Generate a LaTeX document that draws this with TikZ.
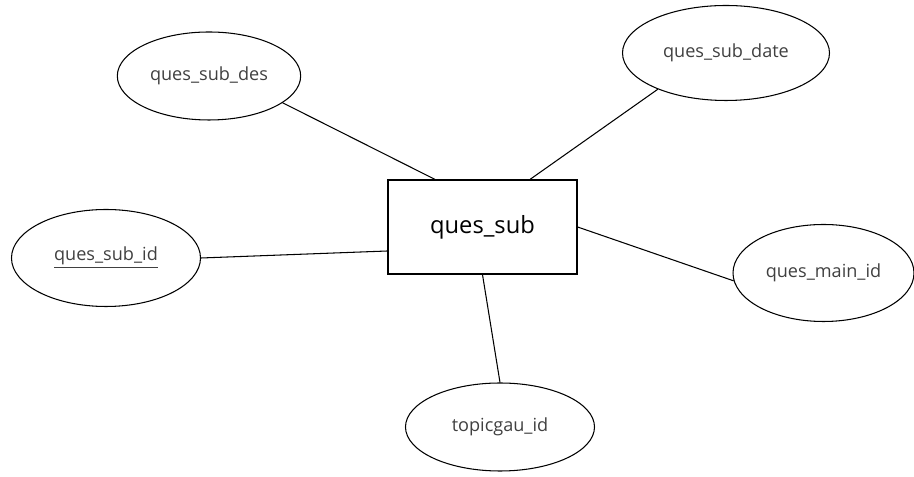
\documentclass[tikz,border=0pt]{standalone}
\usepackage{fontspec}
\setmainfont{Open Sans}
\usetikzlibrary {calc,
                 positioning,
                 shapes.geometric}
\tikzset{
        entity/.style={draw, rectangle, line width=0.7pt, minimum width=3.78cm,
                       minimum height=1.88cm, font=\fontsize{13.5}{16}\selectfont},
        attr/.style={draw, ellipse, line width=0.6pt, minimum width=3.78cm,
                     minimum height=1.9cm, text=black!75,
                     font=\fontsize{10.3}{13}\selectfont},
        link/.style={line width=0.6pt},
 }

\begin{document}
\begin{tikzpicture}[node distance=1cm, on grid]
    \useasboundingbox (-9.65,-5.0) rectangle (8.63,4.54);
    \node[entity] (sub) {ques\_sub};
    % attributes round the entity
    \node[attr, minimum width=3.6cm, minimum height=1.76cm,
          above left=3.02cm and 5.47cm of sub] (subdes) {ques\_sub\_des};
    \node[attr, minimum width=4.14cm,
          above right=3.48cm and 4.87cm of sub] (subdate) {ques\_sub\_date};
    \node[attr, minimum height=1.94cm,
          below left=0.62cm and 7.53cm of sub] (subid) {\underline{ques\_sub\_id}};
    \node[attr, minimum width=3.62cm, minimum height=1.94cm,
          below right=0.92cm and 6.82cm of sub] (mainid) {ques\_main\_id};
    \node[attr, minimum height=1.76cm,
          below right=4.0cm and 0.35cm of sub] (topicid) {topicgau\_id};

    \draw[link] (subdes.-20) -- ($(sub.north west)!0.25!(sub.north east)$);
    \draw[link] (subdate.208) -- ($(sub.north west)!0.75!(sub.north east)$);
    \draw[link] (subid.east) -- ([yshift=-0.48cm]sub.west);
    \draw[link] (mainid.185) -- (sub.east);
    \draw[link] (topicid.north) -- (sub.south);
\end{tikzpicture}
\end{document}
